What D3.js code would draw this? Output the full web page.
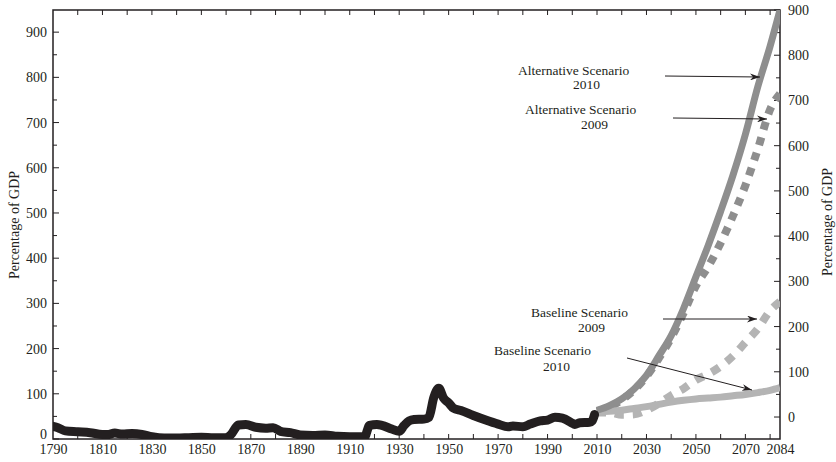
<!DOCTYPE html>
<html><head><meta charset="utf-8">
<script src="https://cdn.jsdelivr.net/npm/d3@7"></script>
<style>
body{margin:0;background:#fff;}
svg text{font-family:"Liberation Serif","DejaVu Serif",serif;fill:#231f20;}
</style></head>
<body><svg id="c" width="836" height="462"></svg>
<script>
// Historical debt held by public (% of GDP), left axis
const histYears = [1790,1792,1795,1800,1805,1810,1812,1815,1818,1822,1826,1830,1835,1840,1845,1850,1855,1860,1862,1865,1868,1872,1876,1879,1882,1886,1890,1895,1900,1905,1910,1916,1918,1921,1923,1927,1930,1932,1934,1936,1940,1942,1944,1946,1948,1950,1952,1955,1960,1965,1970,1974,1976,1980,1983,1987,1990,1993,1996,2000,2001,2003,2007,2008,2009];
const histValues = [28,25,18,16,14,10,10,13,11,12,10,5,2,2,3,4,3,3,10,31,32,26,24,25,17,14,9,8,9,6,5,5,30,32,30,22,17,30,40,43,44,48,92,112,90,80,68,63,52,42,33,27,29,27,33,40,42,48,46,35,32,36,37,40,54];
// Projections (right axis)
const projYears = [2010,2015,2020,2025,2030,2035,2040,2045,2050,2055,2060,2065,2070,2075,2080,2084];
const alt2010 = [15,25,40,62,92,135,180,240,310,380,455,535,625,730,820,900];
const alt2009 = [12,22,38,60,90,130,175,230,290,333,385,445,512,592,680,715];
const base2009 = [10,10,5,6,15,30,48,63,82,95,112,135,165,195,235,255];
const base2010 = [12,13,15,19,23,28,33,37,40,42,44,47,50,54,59,65];
const xLabelYears = [1790,1810,1830,1850,1870,1890,1910,1930,1950,1970,1990,2010,2030,2050,2070,2084];
const leftTicks = [0,100,200,300,400,500,600,700,800,900];
const rightTicks = [0,100,200,300,400,500,600,700,800,900];
const annotations = [
  {l1:"Alternative Scenario", l2:"2010"},
  {l1:"Alternative Scenario", l2:"2009"},
  {l1:"Baseline Scenario", l2:"2009"},
  {l1:"Baseline Scenario", l2:"2010"}
];

const svg = d3.select("#c");
const L=53, R=780, T=10, B=439;
const x = d3.scaleLinear().domain([1790,2084]).range([L,R]);
const yL = d3.scaleLinear().domain([0,949]).range([B,T]);
const yR = d3.scaleLinear().domain([-48.6,900]).range([B,T]);

// frame
svg.append("rect").attr("x",L).attr("y",T).attr("width",R-L).attr("height",B-T)
  .attr("fill","none").attr("stroke","#231f20").attr("stroke-width",1.5);

// axes
const ten = d3.range(1800,2084,10);
const bottom = svg.append("g").attr("transform",`translate(0,${B})`)
  .call(d3.axisBottom(x).tickValues(xLabelYears).tickFormat(d3.format("d")).tickSize(0).tickPadding(5));
bottom.select(".domain").remove();
bottom.selectAll("text").attr("font-size",14);
svg.append("g").selectAll("line").data(ten).join("line")
  .attr("x1",d=>x(d)).attr("x2",d=>x(d)).attr("y1",B).attr("y2",B-5).attr("stroke","#231f20").attr("stroke-width",1);
svg.append("g").selectAll("line").data(ten).join("line")
  .attr("x1",d=>x(d)).attr("x2",d=>x(d)).attr("y1",T).attr("y2",T+5).attr("stroke","#231f20").attr("stroke-width",1);

const left = svg.append("g").attr("transform",`translate(${L},0)`)
  .call(d3.axisLeft(yL).tickValues(leftTicks).tickFormat(d3.format("d")).tickSize(0).tickPadding(6));
left.select(".domain").remove();
left.selectAll("text").attr("font-size",14);
left.selectAll(".tick").filter(d=>d===0).select("text").attr("dy","-0.05em");
svg.append("g").selectAll("line").data(d3.range(0,950,50)).join("line")
  .attr("x1",L).attr("x2",d=>L+(d%100===0?6:4)).attr("y1",d=>yL(d)).attr("y2",d=>yL(d)).attr("stroke","#231f20");

const right = svg.append("g").attr("transform",`translate(${R},0)`)
  .call(d3.axisRight(yR).tickValues(rightTicks).tickFormat(d3.format("d")).tickSize(0).tickPadding(8));
right.select(".domain").remove();
right.selectAll("text").attr("font-size",14);
svg.append("g").selectAll("line").data(d3.range(0,901,50)).join("line")
  .attr("x1",R).attr("x2",d=>R-(d%100===0?6:4)).attr("y1",d=>yR(d)).attr("y2",d=>yR(d)).attr("stroke","#231f20");

// titles
svg.append("text").attr("transform","translate(19,225) rotate(-90)").attr("text-anchor","middle")
  .attr("font-size",14).text("Percentage of GDP");
svg.append("text").attr("transform","translate(832,222) rotate(-90)").attr("text-anchor","middle")
  .attr("font-size",14).text("Percentage of GDP");

// projection lines
const lineR = vals => d3.line().x((d,i)=>x(projYears[i])).y(d=>yR(d)).curve(d3.curveMonotoneX)(vals);
svg.append("clipPath").attr("id","pc").append("rect").attr("x",L).attr("y",T).attr("width",R-L).attr("height",B-T);
const g = svg.append("g").attr("clip-path","url(#pc)");
g.append("path").attr("d",lineR(base2009)).attr("fill","none").attr("stroke","#b4b4b4").attr("stroke-width",8).attr("stroke-dasharray","9,9");
g.append("path").attr("d",lineR(alt2009)).attr("fill","none").attr("stroke","#8e8e8e").attr("stroke-width",8).attr("stroke-dasharray","8,8");
g.append("path").attr("d",lineR(base2010)).attr("fill","none").attr("stroke","#b4b4b4").attr("stroke-width",7);
g.append("path").attr("d",lineR(alt2010)).attr("fill","none").attr("stroke","#8e8e8e").attr("stroke-width",7);

// historical
const lineH = d3.line().x((d,i)=>x(histYears[i])).y(d=>yL(d)).curve(d3.curveMonotoneX);
g.append("path").attr("d",lineH(histValues)).attr("fill","none").attr("stroke","#231f20")
  .attr("stroke-width",9).attr("stroke-linejoin","round").attr("stroke-linecap","round");

// annotations
const defs = svg.append("defs");
defs.append("marker").attr("id","ah").attr("viewBox","0 0 10 7").attr("refX",10).attr("refY",3.5)
  .attr("markerWidth",10).attr("markerHeight",7).attr("markerUnits","userSpaceOnUse").attr("orient","auto")
  .append("path").attr("d","M0,0 L10,3.5 L0,7 L3,3.5 Z").attr("fill","#231f20");
const annPos = [
  {x1:518,y1:75,x2:573,y2:89, ax1:665,ay1:76,ax2:760,ay2:77},
  {x1:525,y1:114,x2:581,y2:129, ax1:673,ay1:118,ax2:767,ay2:119},
  {x1:531,y1:317,x2:578,y2:332, ax1:663,ay1:319,ax2:757,ay2:319},
  {x1:494,y1:355,x2:543,y2:371, ax1:627,ay1:358,ax2:752,ay2:390}
];
annotations.forEach((a,i)=>{
  const p = annPos[i];
  svg.append("text").attr("x",p.x1).attr("y",p.y1).attr("font-size",13.5).text(a.l1);
  svg.append("text").attr("x",p.x2).attr("y",p.y2).attr("font-size",13.5).text(a.l2);
  svg.append("line").attr("x1",p.ax1).attr("y1",p.ay1).attr("x2",p.ax2).attr("y2",p.ay2)
    .attr("stroke","#231f20").attr("stroke-width",1).attr("marker-end","url(#ah)");
});
</script></body></html>
